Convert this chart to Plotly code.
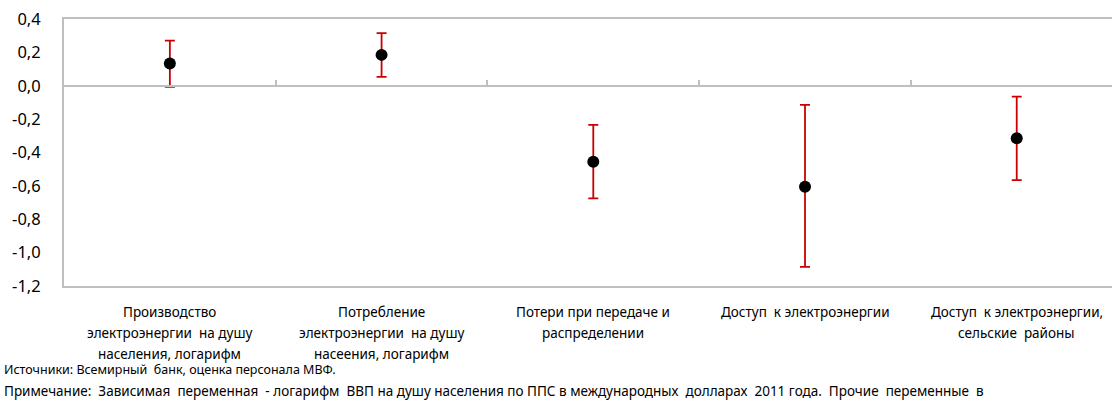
import plotly.graph_objects as go

categories = [
    "Производство\nэлектроэнергии  на душу\nнаселения, логарифм",
    "Потребление\nэлектроэнергии  на душу\nнасеения, логарифм",
    "Потери при передаче и\nраспределении",
    "Доступ  к электроэнергии",
    "Доступ  к электроэнергии,\nсельские  районы",
]
estimates = [0.133, 0.185, -0.455, -0.605, -0.315]
upper = [0.27, 0.315, -0.235, -0.115, -0.065]
lower = [-0.006, 0.053, -0.675, -1.085, -0.565]
y_ticks = [0.4, 0.2, 0.0, -0.2, -0.4, -0.6, -0.8, -1.0, -1.2]
y_tick_labels = ["0,4", "0,2", "0,0", "-0,2", "-0,4", "-0,6", "-0,8", "-1,0", "-1,2"]
source_text = "Источники: Всемирный  банк, оценка персонала МВФ."
note_text = ("Примечание:  Зависимая  переменная  - логарифм  ВВП на душу населения по ППС в международных  "
             "долларах  2011 года.  Прочие  переменные  в")

FONT = "Noto Sans, Open Sans, sans-serif"
W, H = 1112, 403
L, R, T, B = 64, 0, 19, 117
GRAY = "#BFBFBF"


def nb(s):
    return s.replace(" ", "\u00a0")


xs = list(range(len(categories)))
fig = go.Figure()
fig.add_trace(go.Scatter(
    x=xs, y=estimates, mode="markers",
    marker=dict(color="black", size=12),
    error_y=dict(type="data", symmetric=False,
                 array=[u - e for u, e in zip(upper, estimates)],
                 arrayminus=[e - l for e, l in zip(estimates, lower)],
                 color="#CC0000", thickness=1.8, width=5),
    showlegend=False, hoverinfo="skip",
))

ymin, ymax = -1.2, 0.4
zero_pos = (0 - ymin) / (ymax - ymin)
plot_w = W - L - R
plot_h = H - T - B

fig.update_layout(
    width=W, height=H,
    margin=dict(l=L, r=R, t=T, b=B, pad=0, autoexpand=False),
    paper_bgcolor="white", plot_bgcolor="white",
    font=dict(family=FONT, color="#000000"),
    xaxis=dict(range=[-0.5, 4.45], showgrid=False, zeroline=False,
               showline=True, linecolor=GRAY, linewidth=2, mirror=True,
               showticklabels=False, ticks=""),
    xaxis2=dict(range=[-0.5, 4.45], overlaying="x", anchor="free", position=zero_pos,
                side="top", showgrid=False, zeroline=False, showline=True,
                linecolor=GRAY, linewidth=2, tickvals=[0.5, 1.5, 2.5, 3.5],
                ticks="outside", ticklen=5, tickwidth=1.5, tickcolor=GRAY,
                showticklabels=False),
    yaxis=dict(range=[ymin, ymax], tickvals=y_ticks, ticktext=y_tick_labels,
               showgrid=False, zeroline=False, showline=True, linecolor=GRAY,
               linewidth=2, ticks="", ticklabelstandoff=18,
               tickfont=dict(size=16.5, family=FONT, color="#000000")),
)
fig.add_trace(go.Scatter(x=[0], y=[0], xaxis="x2", mode="markers",
                         marker=dict(opacity=0), showlegend=False, hoverinfo="skip"))

annotations = []
for i, cat in enumerate(categories):
    for j, line in enumerate(cat.split("\n")):
        annotations.append(dict(
            x=i, xref="x", y=(H - B - (312 + 21 * j)) / plot_h, yref="paper",
            yanchor="middle", xanchor="center", text=nb(line), showarrow=False,
            font=dict(size=13.5, family=FONT, color="#000000")))
left_x = (2 - L) / plot_w
annotations.append(dict(x=left_x, xref="paper", xanchor="left",
                        y=(H - B - 370) / plot_h, yref="paper", yanchor="middle",
                        text=nb(source_text), showarrow=False,
                        font=dict(size=12.5, family=FONT, color="#000000")))
annotations.append(dict(x=left_x, xref="paper", xanchor="left",
                        y=(H - B - 391) / plot_h, yref="paper", yanchor="middle",
                        text=nb(note_text), showarrow=False,
                        font=dict(size=13.5, family=FONT, color="#000000")))
fig.update_layout(annotations=annotations)

fig.write_html("out.html", config={"displayModeBar": False},
               post_script="document.body.style.margin='0px';")
